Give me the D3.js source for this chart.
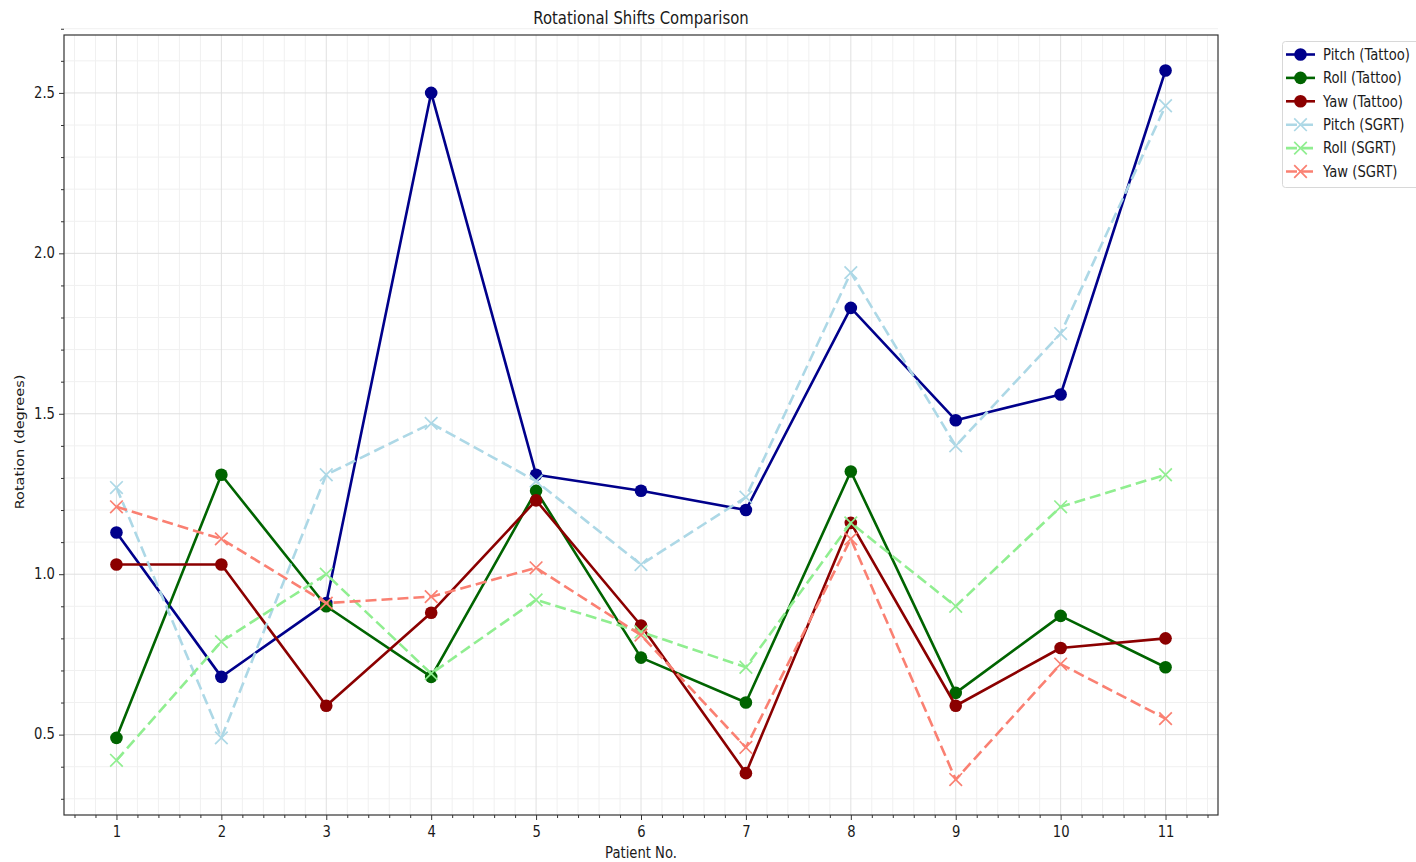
<!DOCTYPE html>
<html>
<head>
<meta charset="utf-8">
<script src="https://cdn.jsdelivr.net/npm/d3@7"></script>
<style>
  html, body { margin: 0; padding: 0; background: #fff; }
  svg { display: block; }
  text { font-family: "DejaVu Sans", sans-serif; fill: #1a1a1a; }
</style>
</head>
<body>
<svg id="chart" width="1416" height="862"></svg>
<script>
// ---- Data ----
const patients = [1, 2, 3, 4, 5, 6, 7, 8, 9, 10, 11];
const pitchTattoo = [1.13, 0.68, 0.91, 2.50, 1.31, 1.26, 1.20, 1.83, 1.48, 1.56, 2.57];
const rollTattoo  = [0.49, 1.31, 0.90, 0.68, 1.26, 0.74, 0.60, 1.32, 0.63, 0.87, 0.71];
const yawTattoo   = [1.03, 1.03, 0.59, 0.88, 1.23, 0.84, 0.38, 1.16, 0.59, 0.77, 0.80];
const pitchSGRT   = [1.27, 0.49, 1.31, 1.47, 1.29, 1.03, 1.24, 1.94, 1.40, 1.75, 2.46];
const rollSGRT    = [0.42, 0.79, 1.00, 0.69, 0.92, 0.82, 0.71, 1.16, 0.90, 1.21, 1.31];
const yawSGRT     = [1.21, 1.11, 0.91, 0.93, 1.02, 0.81, 0.46, 1.11, 0.36, 0.72, 0.55];
const xTicks = [1, 2, 3, 4, 5, 6, 7, 8, 9, 10, 11];
const yTicks = [0.5, 1.0, 1.5, 2.0, 2.5];
const title = "Rotational Shifts Comparison";
const xLabel = "Patient No.";
const yLabel = "Rotation (degrees)";

const series = [
  { name: "Pitch (Tattoo)", values: pitchTattoo, color: "#00008b", marker: "o", dashed: false },
  { name: "Roll (Tattoo)",  values: rollTattoo,  color: "#006400", marker: "o", dashed: false },
  { name: "Yaw (Tattoo)",   values: yawTattoo,   color: "#8b0000", marker: "o", dashed: false },
  { name: "Pitch (SGRT)",   values: pitchSGRT,   color: "#add8e6", marker: "x", dashed: true },
  { name: "Roll (SGRT)",    values: rollSGRT,    color: "#90ee90", marker: "x", dashed: true },
  { name: "Yaw (SGRT)",     values: yawSGRT,     color: "#fa8072", marker: "x", dashed: true }
];

// ---- Layout ----
const L = 64, R = 1218, T = 35, B = 815;
const SX = 0.85; // horizontal text compression
const svg = d3.select("#chart");

const allVals = series.flatMap(s => s.values);
const vmin = d3.min(allVals), vmax = d3.max(allVals);
const pad = (vmax - vmin) * 0.05;
const x = d3.scaleLinear().domain([0.5, 11.5]).range([L, R]);
const y = d3.scaleLinear().domain([vmin - pad, vmax + pad]).range([B, T]);

function txt(g, str, px, py, size, anchor, baseline, rot) {
  return g.append("text")
    .attr("transform", `translate(${px},${py})` + (rot ? ` rotate(${rot})` : "") + ` scale(${rot ? 1 : SX},${rot ? SX : 1})`)
    .attr("text-anchor", anchor)
    .attr("dominant-baseline", baseline)
    .style("font-size", size + "px")
    .text(str);
}

// ---- Grid ----
const xMinor = d3.range(0.6, 11.5, 0.2).filter(v => Math.abs(v - Math.round(v)) > 1e-6);
const yMinor = d3.range(0.3, 2.7, 0.1).filter(v => Math.abs(v * 2 - Math.round(v * 2)) > 1e-6);
const grid = svg.append("g");
grid.selectAll(".gxm").data(xMinor).join("line")
  .attr("x1", d => x(d)).attr("x2", d => x(d)).attr("y1", T).attr("y2", B)
  .attr("stroke", "#f0f0f0").attr("stroke-width", 1);
grid.selectAll(".gym").data(yMinor).join("line")
  .attr("y1", d => y(d)).attr("y2", d => y(d)).attr("x1", L).attr("x2", R)
  .attr("stroke", "#f0f0f0").attr("stroke-width", 1);
grid.selectAll(".gx").data(xTicks).join("line")
  .attr("x1", d => x(d)).attr("x2", d => x(d)).attr("y1", T).attr("y2", B)
  .attr("stroke", "#e0e0e0").attr("stroke-width", 1);
grid.selectAll(".gy").data(yTicks).join("line")
  .attr("y1", d => y(d)).attr("y2", d => y(d)).attr("x1", L).attr("x2", R)
  .attr("stroke", "#e0e0e0").attr("stroke-width", 1);

// ---- Axes ----
const xAxis = svg.append("g").attr("transform", `translate(0,${B})`)
  .call(d3.axisBottom(x).tickValues(xTicks).tickSize(5).tickFormat(d3.format("d")));
const xAxisMinor = svg.append("g").attr("transform", `translate(0,${B})`)
  .call(d3.axisBottom(x).tickValues(xMinor).tickSize(3).tickFormat(""));
const yAxis = svg.append("g").attr("transform", `translate(${L},0)`)
  .call(d3.axisLeft(y).tickValues(yTicks).tickSize(5).tickFormat(d3.format(".1f")));
const yAxisMinor = svg.append("g").attr("transform", `translate(${L},0)`)
  .call(d3.axisLeft(y).tickValues(yMinor).tickSize(3).tickFormat(""));
[xAxis, xAxisMinor, yAxis, yAxisMinor].forEach(a => {
  a.select(".domain").remove();
  a.selectAll(".tick line").attr("stroke", "#333");
});
xAxis.selectAll(".tick text")
  .attr("y", 0).attr("dy", 0)
  .attr("transform", `translate(0,18) scale(${SX},1)`)
  .attr("dominant-baseline", "middle")
  .style("font-size", "15.5px").attr("fill", "#1a1a1a");
yAxis.selectAll(".tick text")
  .attr("x", 0).attr("dy", 0)
  .attr("transform", `translate(-9,0) scale(${SX},1)`)
  .attr("dominant-baseline", "middle")
  .style("font-size", "15.5px").attr("fill", "#1a1a1a");

// ---- Frame ----
svg.append("rect").attr("x", L).attr("y", T).attr("width", R - L).attr("height", B - T)
  .attr("fill", "none").attr("stroke", "#333").attr("stroke-width", 1.2);

// ---- Lines & markers ----
const plot = svg.append("g");
const line = d3.line().x((d, i) => x(patients[i])).y(d => y(d));
function drawMarker(g, kind, cx, cy, color) {
  if (kind === "o") {
    g.append("circle").attr("cx", cx).attr("cy", cy).attr("r", 6.3).attr("fill", color);
  } else {
    const s = 6.3;
    g.append("path").attr("d", `M${cx - s},${cy - s}L${cx + s},${cy + s}M${cx - s},${cy + s}L${cx + s},${cy - s}`)
      .attr("stroke", color).attr("stroke-width", 1.7).attr("fill", "none");
  }
}
series.forEach(s => {
  const g = plot.append("g");
  g.append("path").datum(s.values).attr("d", line)
    .attr("fill", "none").attr("stroke", s.color).attr("stroke-width", 2.6)
    .attr("stroke-dasharray", s.dashed ? "11,5" : null)
    .attr("stroke-linejoin", "round");
  s.values.forEach((v, i) => drawMarker(g, s.marker, x(patients[i]), y(v), s.color));
});

// ---- Title & labels ----
txt(svg, title, (L + R) / 2, 19, 17.5, "middle", "middle");
txt(svg, xLabel, (L + R) / 2, 854, 15.5, "middle", "middle");
txt(svg, yLabel, 20, 442, 14.5, "middle", "middle", -90);

// ---- Legend ----
const lg = svg.append("g");
lg.append("rect").attr("x", 1282.5).attr("y", 41.5).attr("width", 140).attr("height", 146)
  .attr("rx", 3).attr("fill", "#fff").attr("stroke", "#d8d8d8").attr("stroke-width", 1);
series.forEach((s, i) => {
  const cy = 54.5 + i * 23.4;
  lg.append("line").attr("x1", 1286).attr("x2", 1315).attr("y1", cy).attr("y2", cy)
    .attr("stroke", s.color).attr("stroke-width", 2.6)
    .attr("stroke-dasharray", s.dashed ? "11,5" : null);
  drawMarker(lg, s.marker, 1300.5, cy, s.color);
  txt(lg, s.name, 1323, cy + 1, 15.5, "start", "middle");
});
</script>
</body>
</html>
